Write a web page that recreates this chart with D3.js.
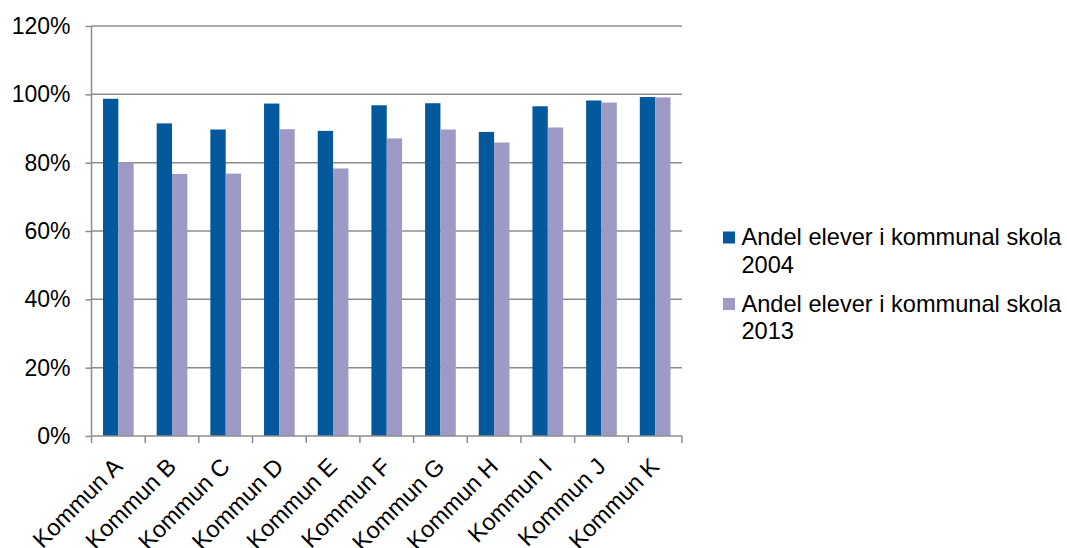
<!DOCTYPE html>
<html><head><meta charset="utf-8">
<script src="https://cdn.jsdelivr.net/npm/d3@7"></script>
<style>body{margin:0;background:#fff}text{font-family:Arial,"Liberation Sans",sans-serif;fill:#000}</style>
</head><body><svg id="c" width="1067" height="548"></svg>
<script>
const categories = ["Kommun A","Kommun B","Kommun C","Kommun D","Kommun E","Kommun F","Kommun G","Kommun H","Kommun I","Kommun J","Kommun K"];
const series2004 = [0.987,0.915,0.897,0.973,0.893,0.968,0.974,0.890,0.965,0.982,0.992];
const series2013 = [0.801,0.767,0.768,0.898,0.783,0.871,0.897,0.859,0.903,0.976,0.991];
const seriesNames = ["Andel elever i kommunal skola 2004","Andel elever i kommunal skola 2013"];
const colors = ["#04599c","#9d9bc5"];
const yTicks = [0,0.2,0.4,0.6,0.8,1.0,1.2];

const svg = d3.select("#c");
const m = {l:91.5, r:1067-682, t:26, b:548-436};
const x = d3.scaleBand().domain(categories).range([m.l, 682]).paddingInner(0.428).paddingOuter(0.214);
const x0 = d3.scaleBand().domain(categories).range([m.l, 682]);
const y = d3.scaleLinear().domain([0,1.2]).range([436,26]);

// gridlines
svg.append("g").selectAll("line").data(yTicks.slice(1)).join("line")
  .attr("x1", m.l).attr("x2", 682).attr("y1", d=>y(d)).attr("y2", d=>y(d))
  .attr("stroke","#8c8c8c").attr("stroke-width",1.5);

// bars
const sub = d3.scaleBand().domain([0,1]).range([0, x.bandwidth()]);
const data = categories.map((c,i)=>({c, v:[series2004[i], series2013[i]]}));
const g = svg.append("g").selectAll("g").data(data).join("g").attr("transform", d=>`translate(${x(d.c)},0)`);
g.selectAll("rect").data(d=>d.v.map((v,k)=>({v,k}))).join("rect")
  .attr("x", d=>sub(d.k)).attr("width", sub.bandwidth())
  .attr("y", d=>y(d.v)).attr("height", d=>y(0)-y(d.v))
  .attr("fill", d=>colors[d.k]);

// y axis
const ya = svg.append("g").attr("transform",`translate(${m.l},0)`)
  .call(d3.axisLeft(y).tickValues(yTicks).tickFormat(d3.format(".0%")).tickSize(6).tickPadding(15));
ya.select(".domain").attr("stroke","#8c8c8c").attr("stroke-width",1.5).attr("d",`M-0,${y(1.2)}V${y(0)}`);
ya.selectAll(".tick line").attr("stroke","#8c8c8c").attr("stroke-width",1.5);
ya.selectAll(".tick text").style("font-size","23px").attr("fill","#000");

// x axis
const xa = svg.append("g").attr("transform",`translate(0,${y(0)})`)
  .call(d3.axisBottom(x0).tickSize(0).tickFormat(""));
xa.select(".domain").attr("stroke","#8c8c8c").attr("stroke-width",1.5).attr("d",`M${m.l},0H682`);
xa.selectAll(".tick").remove();
const bounds = categories.map(c=>x0(c)).concat([682]);
xa.selectAll("line.b").data(bounds).join("line").attr("class","b")
  .attr("x1",d=>d).attr("x2",d=>d).attr("y1",0).attr("y2",7)
  .attr("stroke","#8c8c8c").attr("stroke-width",1.5);
xa.selectAll("text.l").data(categories).join("text").attr("class","l")
  .attr("transform", d=>`translate(${x0(d)+x0.bandwidth()/2+5.5},${32}) rotate(-45)`)
  .attr("text-anchor","end").style("font-size","23.5px").text(d=>d);

// legend
const lg = svg.append("g");
const ly = [231.5, 298];
seriesNames.forEach((n,i)=>{
  lg.append("rect").attr("x",723).attr("y",ly[i]).attr("width",12).attr("height",12).attr("fill",colors[i]);
  const words = n.split(" ");
  const t = lg.append("text").attr("x",741.5).attr("y",ly[i]+13.5).style("font-size","23.6px");
  t.append("tspan").attr("x",741.5).text(words.slice(0,-1).join(" "));
  t.append("tspan").attr("x",741.5).attr("dy",27.5).text(words[words.length-1]);
});
</script></body></html>
